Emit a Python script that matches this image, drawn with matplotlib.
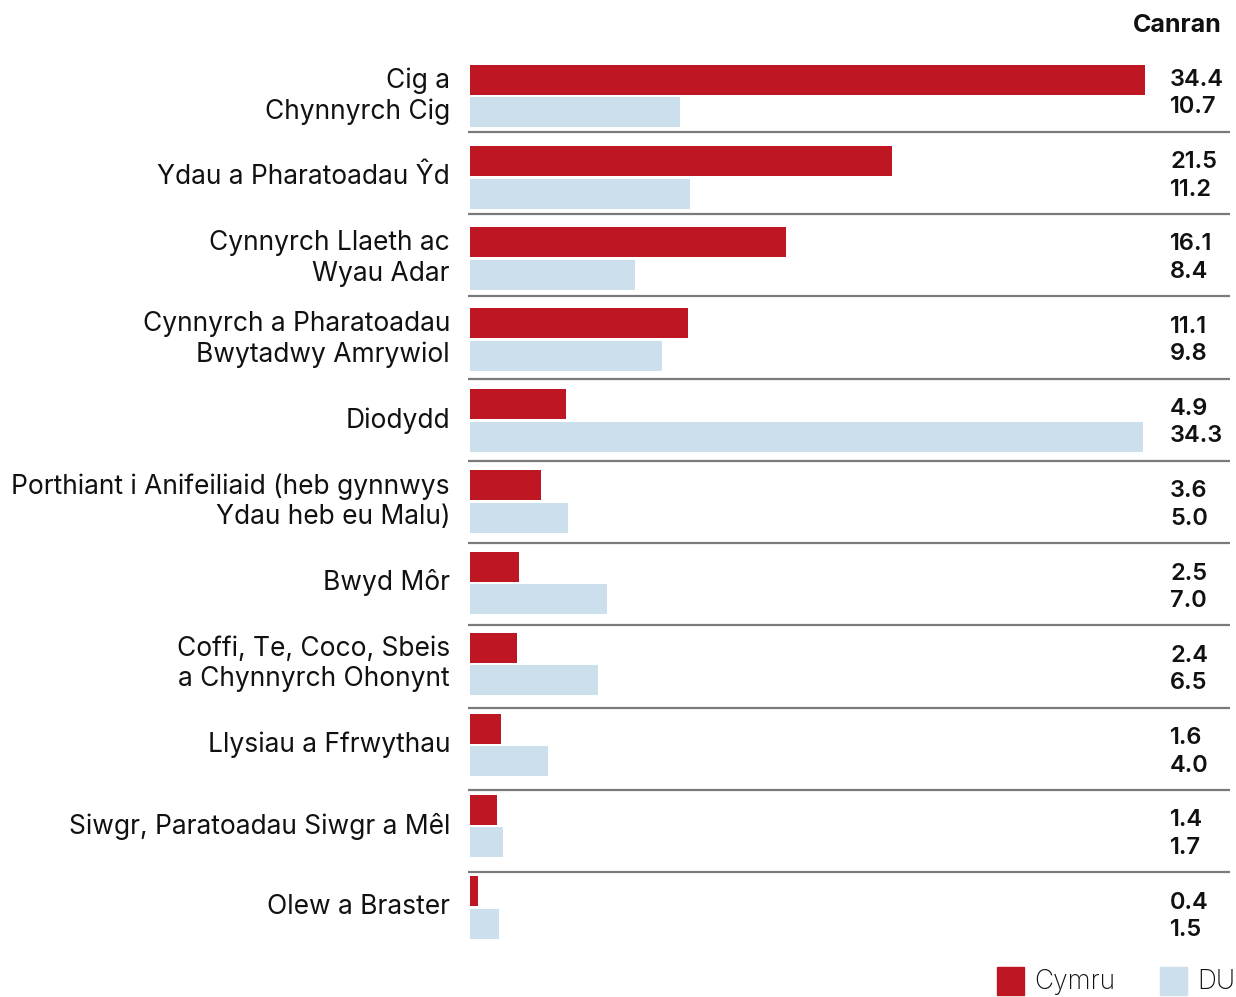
import matplotlib
matplotlib.use("Agg")
import matplotlib.pyplot as plt
from matplotlib.patches import Rectangle

categories = [
    "Cig a\nChynnyrch Cig",
    "Ydau a Pharatoadau Ŷd",
    "Cynnyrch Llaeth ac\nWyau Adar",
    "Cynnyrch a Pharatoadau\nBwytadwy Amrywiol",
    "Diodydd",
    "Porthiant i Anifeiliaid (heb gynnwys\nYdau heb eu Malu)",
    "Bwyd Môr",
    "Coffi, Te, Coco, Sbeis\na Chynnyrch Ohonynt",
    "Llysiau a Ffrwythau",
    "Siwgr, Paratoadau Siwgr a Mêl",
    "Olew a Braster",
]
cymru = [34.4, 21.5, 16.1, 11.1, 4.9, 3.6, 2.5, 2.4, 1.6, 1.4, 0.4]
du = [10.7, 11.2, 8.4, 9.8, 34.3, 5.0, 7.0, 6.5, 4.0, 1.7, 1.5]
series_names = ["Cymru", "DU"]
unit_label = "Canran"

RED = "#BE1622"
BLUE = "#CCDFEC"
FONT = ["Inter", "DejaVu Sans"]
plt.rcParams["font.family"] = FONT

W, H = 1236, 997
fig = plt.figure(figsize=(W / 100, H / 100), dpi=100)

# axes laid out in pixel space (y data = pixel rows from top)
ax_left, ax_right = 470, 1230
ax_top, ax_bottom = 40, 960
ax = fig.add_axes([ax_left / W, 1 - ax_bottom / H, (ax_right - ax_left) / W, (ax_bottom - ax_top) / H])
px_per_unit = 675 / 34.4
xmax = (ax_right - ax_left) / px_per_unit
ax.set_xlim(0, xmax)
ax.set_ylim(ax_bottom, ax_top)
ax.axis("off")

n = len(categories)
bar_step = 81.1      # spacing of bar groups
row_step = 82.25     # spacing of separators / value labels
bar_h = 30
for i, (c, v1, v2) in enumerate(zip(categories, cymru, du)):
    red_c = 65 + bar_step * i + bar_h / 2
    blue_c = red_c + 32.5
    ax.barh(red_c, v1, height=bar_h, color=RED)
    ax.barh(blue_c, v2, height=bar_h, color=BLUE)
    sep = 132 + row_step * i
    if i < n - 1:
        ax.plot([-0.1, xmax], [sep, sep], color="#7a7a7a", lw=1.6, clip_on=False,
                solid_capstyle="butt")
    center = (red_c + blue_c) / 2
    ax.text(-20 / px_per_unit, center, c, ha="right", va="center", fontsize=19,
            linespacing=1.23, color="#111111")
    vmid = sep - 38.5
    ax.text(700 / px_per_unit, vmid - 13.5, f"{v1:.1f}", ha="left", va="center",
            fontsize=17, fontweight="semibold", color="#111111")
    ax.text(700 / px_per_unit, vmid + 14, f"{v2:.1f}", ha="left", va="center",
            fontsize=17, fontweight="semibold", color="#111111")

fig.text(1222 / W, 1 - 25 / H, unit_label, ha="right", va="center", fontsize=18,
         fontweight="bold", color="#111111")

# legend
for x0, col, name in [(997, RED, series_names[0]), (1160, BLUE, series_names[1])]:
    fig.patches.append(Rectangle((x0 / W, 1 - 995 / H), 27 / W, 28 / H, transform=fig.transFigure,
                                 color=col))
    fig.text((x0 + 37) / W, 1 - 982 / H, name, ha="left", va="center", fontsize=19,
             fontweight="light", color="#111111")

fig.savefig("out.png", dpi=100)
